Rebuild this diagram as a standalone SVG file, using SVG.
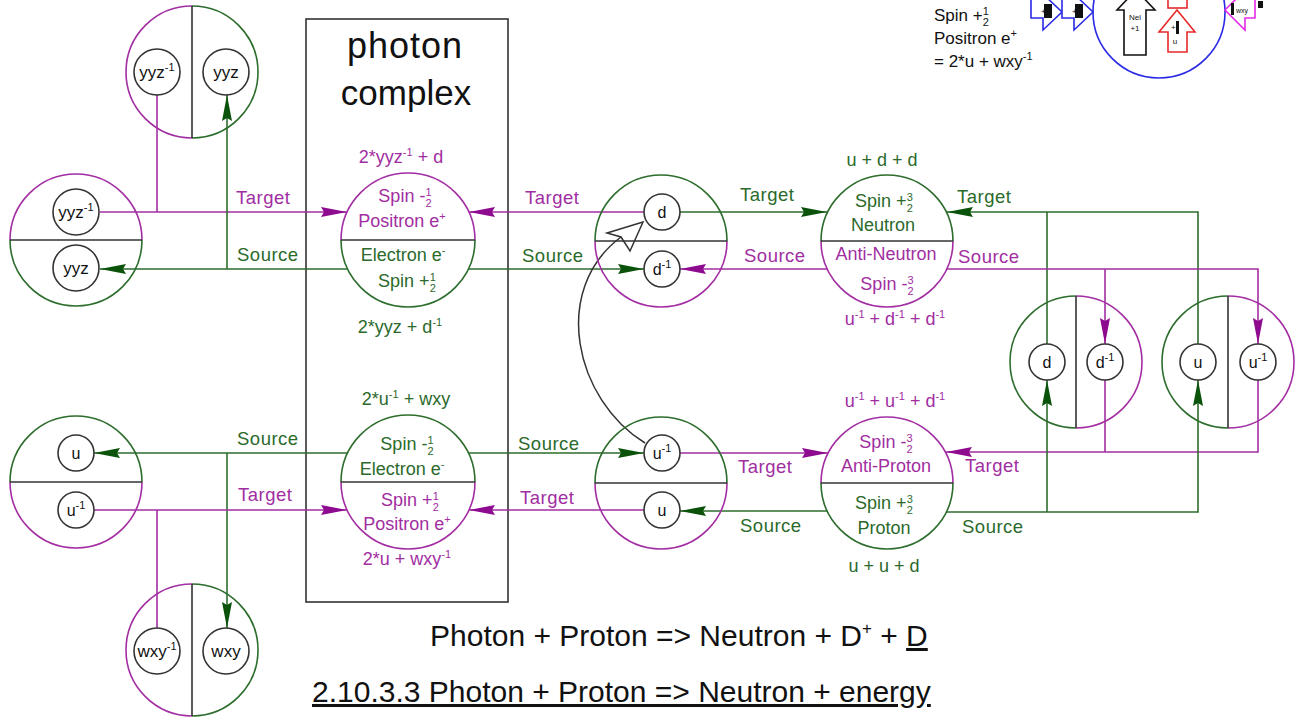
<svg xmlns="http://www.w3.org/2000/svg" width="1296" height="719" viewBox="0 0 1296 719">
<style>
text{font-family:"Liberation Sans",Arial,sans-serif}
.lbl{font-size:18.5px;letter-spacing:0.5px}
.ct{font-size:18px;text-anchor:middle}
.fr{font-size:11px}
.sup{font-size:11px}
.tg{fill:#2b6a2b}
.tp{fill:#a12ea1}
.k{fill:#111}
.lg{stroke:#2d6d2d;stroke-width:1.6;fill:none}
.lp{stroke:#a32ea3;stroke-width:1.6;fill:none}
.ck{stroke:#333;stroke-width:1.6;fill:none}
.sc{stroke:#333;stroke-width:1.6;fill:#fff}
.sn{font-size:17px;text-anchor:middle;fill:#111}
.sd{font-size:16px;text-anchor:middle;fill:#111}
</style>
<defs>
<marker id="ag" viewBox="0 0 26 10" refX="26" refY="5" markerWidth="26" markerHeight="10" markerUnits="userSpaceOnUse" orient="auto"><path d="M0,0 L26,5 L0,10 L3,5 z" fill="#0b520b"/></marker>
<marker id="ap" viewBox="0 0 26 10" refX="26" refY="5" markerWidth="26" markerHeight="10" markerUnits="userSpaceOnUse" orient="auto"><path d="M0,0 L26,5 L0,10 L3,5 z" fill="#8e0a8e"/></marker>
</defs>
<rect width="1296" height="719" fill="#fff"/>

<g id="photon-complex-box">
<rect x="306" y="19" width="202" height="583" class="ck"/>
<text x="405" y="58" font-size="36" text-anchor="middle" letter-spacing="1" class="k">photon</text>
<text x="406" y="105" font-size="35" text-anchor="middle" class="k">complex</text>
</g>

<g id="connectors">
<!-- top left -->
<line x1="100" y1="212" x2="347" y2="212" class="lp" marker-end="url(#ap)"/>
<line x1="157" y1="95" x2="157" y2="212" class="lp"/>
<line x1="347" y1="269" x2="100" y2="269" class="lg" marker-end="url(#ag)"/>
<polyline points="227,269 227,95" class="lg" marker-end="url(#ag)"/>
<!-- bottom left -->
<line x1="347" y1="453" x2="94" y2="453" class="lg" marker-end="url(#ag)"/>
<line x1="227" y1="453" x2="227" y2="628" class="lg" marker-end="url(#ag)"/>
<line x1="94" y1="510" x2="347" y2="510" class="lp" marker-end="url(#ap)"/>
<line x1="157" y1="510" x2="157" y2="628" class="lp"/>
<!-- middle -->
<line x1="644" y1="212" x2="469" y2="212" class="lp" marker-end="url(#ap)"/>
<line x1="469" y1="269" x2="644" y2="269" class="lg" marker-end="url(#ag)"/>
<line x1="469" y1="453" x2="644" y2="453" class="lg" marker-end="url(#ag)"/>
<line x1="644" y1="510" x2="469" y2="510" class="lp" marker-end="url(#ap)"/>
<!-- neutron -->
<line x1="680" y1="212" x2="827" y2="212" class="lg" marker-end="url(#ag)"/>
<line x1="827" y1="269" x2="680" y2="269" class="lp" marker-end="url(#ap)"/>
<line x1="1047" y1="344" x2="1047" y2="212" class="lg"/>
<polyline points="1198,344 1198,212 947,212" class="lg" marker-end="url(#ag)"/>
<polyline points="947,269 1258,269 1258,344" class="lp" marker-end="url(#ap)"/>
<line x1="1105" y1="269" x2="1105" y2="344" class="lp" marker-end="url(#ap)"/>
<!-- proton -->
<line x1="680" y1="453" x2="828" y2="453" class="lp" marker-end="url(#ap)"/>
<line x1="827" y1="511" x2="680" y2="511" class="lg" marker-end="url(#ag)"/>
<line x1="1105" y1="380" x2="1105" y2="452" class="lp"/>
<polyline points="1258,380 1258,452 946,452" class="lp" marker-end="url(#ap)"/>
<polyline points="946,512 1198,512 1198,380" class="lg" marker-end="url(#ag)"/>
<polyline points="1047,512 1047,380" class="lg" marker-end="url(#ag)"/>
<!-- curved transfer arrow -->
<path d="M645,443 C575,400 550,290 621,237" stroke="#333" stroke-width="1.5" fill="none"/>
<polygon points="643,222 607,233 621,237 630,251" fill="#fff" stroke="#333" stroke-width="1.5"/>
<!-- labels -->
<text x="236" y="204" class="lbl tp">Target</text>
<text x="237" y="261" class="lbl tg">Source</text>
<text x="525" y="204" class="lbl tp">Target</text>
<text x="522" y="262" class="lbl tg">Source</text>
<text x="740" y="201" class="lbl tg">Target</text>
<text x="744" y="262" class="lbl tp">Source</text>
<text x="957" y="203" class="lbl tg">Target</text>
<text x="958" y="263" class="lbl tp">Source</text>
<text x="237" y="445" class="lbl tg">Source</text>
<text x="238" y="501" class="lbl tp">Target</text>
<text x="518" y="450" class="lbl tg">Source</text>
<text x="520" y="504" class="lbl tp">Target</text>
<text x="738" y="473" class="lbl tp">Target</text>
<text x="740" y="532" class="lbl tg">Source</text>
<text x="965" y="472" class="lbl tp">Target</text>
<text x="962" y="533" class="lbl tg">Source</text>
</g>

<g id="yyz-pair-top">
<path d="M192,6 A66,66 0 0 0 192,138" class="lp"/>
<path d="M192,6 A66,66 0 0 1 192,138" class="lg"/>
<line x1="192" y1="6" x2="192" y2="138" class="ck"/>
<circle cx="157" cy="72" r="23" class="sc"/>
<text x="157" y="78" class="sn">yyz<tspan class="sup" dy="-7">-1</tspan></text>
<circle cx="226" cy="72" r="23" class="sc"/>
<text x="226" y="78" class="sn">yyz</text>
</g>

<g id="yyz-pair-left">
<path d="M10,240 A66,66 0 0 1 142,240" class="lp"/>
<path d="M10,240 A66,66 0 0 0 142,240" class="lg"/>
<line x1="10" y1="240" x2="142" y2="240" class="ck"/>
<circle cx="76" cy="212" r="23" class="sc"/>
<text x="76" y="218" class="sn">yyz<tspan class="sup" dy="-7">-1</tspan></text>
<circle cx="76" cy="268" r="23" class="sc"/>
<text x="76" y="274" class="sn">yyz</text>
</g>

<g id="photon-top">
<path d="M341,240 A67,67 0 0 1 475,240" class="lp"/>
<path d="M341,240 A67,67 0 0 0 475,240" class="lg"/>
<line x1="341" y1="240" x2="475" y2="240" class="ck"/>
<text x="401" y="163" class="ct tp">2*yyz<tspan class="sup" dy="-7">-1</tspan><tspan dy="7"> + d</tspan></text>
<text x="405" y="202" class="ct tp">Spin -<tspan class="fr" dy="-6">1</tspan><tspan class="fr" dx="-6" dy="11">2</tspan></text>
<text x="402" y="227" class="ct tp">Positron e<tspan class="sup" dy="-7">+</tspan></text>
<text x="403" y="261" class="ct tg">Electron e<tspan class="sup" dy="-7">-</tspan></text>
<text x="407" y="287" class="ct tg">Spin +<tspan class="fr" dy="-6">1</tspan><tspan class="fr" dx="-6" dy="11">2</tspan></text>
<text x="400" y="333" class="ct tg">2*yyz + d<tspan class="sup" dy="-7">-1</tspan></text>
</g>

<g id="photon-bottom">
<path d="M341,482 A67,67 0 0 1 475,482" class="lg"/>
<path d="M341,482 A67,67 0 0 0 475,482" class="lp"/>
<line x1="341" y1="482" x2="475" y2="482" class="ck"/>
<text x="406" y="405" class="ct tg">2*u<tspan class="sup" dy="-7">-1</tspan><tspan dy="7"> + wxy</tspan></text>
<text x="407" y="450" class="ct tg">Spin -<tspan class="fr" dy="-6">1</tspan><tspan class="fr" dx="-6" dy="11">2</tspan></text>
<text x="402" y="475" class="ct tg">Electron e<tspan class="sup" dy="-7">-</tspan></text>
<text x="410" y="506" class="ct tp">Spin +<tspan class="fr" dy="-6">1</tspan><tspan class="fr" dx="-6" dy="11">2</tspan></text>
<text x="407" y="530" class="ct tp">Positron e<tspan class="sup" dy="-7">+</tspan></text>
<text x="407" y="565" class="ct tp">2*u + wxy<tspan class="sup" dy="-7">-1</tspan></text>
</g>

<g id="u-pair-left">
<path d="M10,482 A66,66 0 0 1 142,482" class="lg"/>
<path d="M10,482 A66,66 0 0 0 142,482" class="lp"/>
<line x1="10" y1="482" x2="142" y2="482" class="ck"/>
<circle cx="76" cy="453" r="18" class="sc"/>
<text x="76" y="459" class="sd">u</text>
<circle cx="76" cy="510" r="18" class="sc"/>
<text x="76" y="516" class="sd">u<tspan class="sup" dy="-7">-1</tspan></text>
</g>

<g id="wxy-pair">
<path d="M192,584 A66,66 0 0 0 192,716" class="lp"/>
<path d="M192,584 A66,66 0 0 1 192,716" class="lg"/>
<line x1="192" y1="584" x2="192" y2="716" class="ck"/>
<circle cx="157" cy="651" r="23" class="sc"/>
<text x="157" y="657" class="sn">wxy<tspan class="sup" dy="-7">-1</tspan></text>
<circle cx="226" cy="651" r="23" class="sc"/>
<text x="226" y="657" class="sn">wxy</text>
</g>

<g id="d-pair-middle">
<path d="M595,241 A66,66 0 0 1 727,241" class="lg"/>
<path d="M595,241 A66,66 0 0 0 727,241" class="lp"/>
<line x1="595" y1="241" x2="727" y2="241" class="ck"/>
<circle cx="662" cy="212" r="18" class="sc"/>
<text x="662" y="218" class="sd">d</text>
<circle cx="662" cy="269" r="18" class="sc"/>
<text x="662" y="275" class="sd">d<tspan class="sup" dy="-7">-1</tspan></text>
</g>

<g id="u-pair-middle">
<path d="M595,483 A66,66 0 0 1 727,483" class="lg"/>
<path d="M595,483 A66,66 0 0 0 727,483" class="lp"/>
<line x1="595" y1="483" x2="727" y2="483" class="ck"/>
<circle cx="662" cy="453" r="18" class="sc"/>
<text x="662" y="459" class="sd">u<tspan class="sup" dy="-7">-1</tspan></text>
<circle cx="662" cy="510" r="18" class="sc"/>
<text x="662" y="516" class="sd">u</text>
</g>

<g id="neutron">
<path d="M821,241 A66,66 0 0 1 953,241" class="lg"/>
<path d="M821,241 A66,66 0 0 0 953,241" class="lp"/>
<line x1="821" y1="241" x2="953" y2="241" class="ck"/>
<text x="882" y="166" class="ct tg">u + d + d</text>
<text x="884" y="207" class="ct tg">Spin +<tspan class="fr" dy="-6">3</tspan><tspan class="fr" dx="-6" dy="11">2</tspan></text>
<text x="883" y="231" class="ct tg">Neutron</text>
<text x="886" y="260" class="ct tp">Anti-Neutron</text>
<text x="887" y="290" class="ct tp">Spin -<tspan class="fr" dy="-6">3</tspan><tspan class="fr" dx="-6" dy="11">2</tspan></text>
<text x="895" y="325" class="ct tp">u<tspan class="sup" dy="-7">-1</tspan><tspan dy="7"> + d</tspan><tspan class="sup" dy="-7">-1</tspan><tspan dy="7"> + d</tspan><tspan class="sup" dy="-7">-1</tspan></text>
</g>

<g id="proton">
<path d="M821,483 A66,66 0 0 1 953,483" class="lp"/>
<path d="M821,483 A66,66 0 0 0 953,483" class="lg"/>
<line x1="821" y1="483" x2="953" y2="483" class="ck"/>
<text x="895" y="407" class="ct tp">u<tspan class="sup" dy="-7">-1</tspan><tspan dy="7"> + u</tspan><tspan class="sup" dy="-7">-1</tspan><tspan dy="7"> + d</tspan><tspan class="sup" dy="-7">-1</tspan></text>
<text x="886" y="448" class="ct tp">Spin -<tspan class="fr" dy="-6">3</tspan><tspan class="fr" dx="-6" dy="11">2</tspan></text>
<text x="886" y="472" class="ct tp">Anti-Proton</text>
<text x="884" y="509" class="ct tg">Spin +<tspan class="fr" dy="-6">3</tspan><tspan class="fr" dx="-6" dy="11">2</tspan></text>
<text x="884" y="534" class="ct tg">Proton</text>
<text x="884" y="572" class="ct tg">u + u + d</text>
</g>

<g id="d-pair-right">
<path d="M1076,296 A66,66 0 0 0 1076,428" class="lg"/>
<path d="M1076,296 A66,66 0 0 1 1076,428" class="lp"/>
<line x1="1076" y1="296" x2="1076" y2="428" class="ck"/>
<circle cx="1047" cy="362" r="18" class="sc"/>
<text x="1047" y="368" class="sd">d</text>
<circle cx="1105" cy="362" r="18" class="sc"/>
<text x="1105" y="368" class="sd">d<tspan class="sup" dy="-7">-1</tspan></text>
</g>

<g id="u-pair-right">
<path d="M1228,296 A66,66 0 0 0 1228,428" class="lg"/>
<path d="M1228,296 A66,66 0 0 1 1228,428" class="lp"/>
<line x1="1228" y1="296" x2="1228" y2="428" class="ck"/>
<circle cx="1198" cy="362" r="18" class="sc"/>
<text x="1198" y="368" class="sd">u</text>
<circle cx="1258" cy="362" r="18" class="sc"/>
<text x="1258" y="368" class="sd">u<tspan class="sup" dy="-7">-1</tspan></text>
</g>

<g id="legend-fragment">
<text x="934" y="21" font-size="17" class="k">Spin +<tspan class="fr" dy="-6">1</tspan><tspan class="fr" dx="-6" dy="11">2</tspan></text>
<text x="934" y="44" font-size="17" class="k">Positron e<tspan class="sup" dy="-7">+</tspan></text>
<text x="934" y="67" font-size="17" class="k">= 2*u + wxy<tspan class="sup" dy="-7">-1</tspan></text>
<circle cx="1159" cy="12" r="66" fill="none" stroke="#2a2ae6" stroke-width="1.6"/>
<polygon points="1031,-5 1031,18 1043,18 1043,30 1062,12 1043,-6" fill="#fff" stroke="#2a2ae6" stroke-width="1.6"/>
<rect x="1044" y="4" width="8" height="14" fill="#111"/>
<text x="1041" y="14" font-size="8" class="k">+</text>
<polygon points="1062,-5 1062,18 1074,18 1074,30 1093,12 1074,-6" fill="#fff" stroke="#2a2ae6" stroke-width="1.6"/>
<rect x="1075" y="4" width="8" height="14" fill="#111"/>
<text x="1072" y="14" font-size="8" class="k">+</text>
<polygon points="1136,-10 1155,10 1146,10 1146,55 1124,55 1124,10 1117,10" fill="#fff" stroke="#111" stroke-width="1.6"/>
<text x="1135" y="20" font-size="8" text-anchor="middle" class="k">Nel</text>
<text x="1135" y="31" font-size="8" text-anchor="middle" class="k">+1</text>
<rect x="1168" y="-4" width="19" height="12" fill="#fff" stroke="#e62a2a" stroke-width="1.6"/>
<polygon points="1177,10 1195,32 1187,32 1187,52 1168,52 1168,32 1159,32" fill="#fff" stroke="#e62a2a" stroke-width="1.6"/>
<rect x="1176" y="21" width="3" height="13" fill="#111"/>
<text x="1171" y="30" font-size="8" class="k">+</text>
<text x="1175" y="44" font-size="8" text-anchor="middle" class="k">u</text>
<polygon points="1225,10 1245,-10 1255,-10 1255,18 1245,18 1245,30" fill="#fff" stroke="#e62ae6" stroke-width="1.6"/>
<rect x="1231" y="3" width="3" height="12" fill="#111"/>
<text x="1236" y="13" font-size="7" class="k">wxy</text>
<rect x="1258" y="1" width="5" height="7" fill="#111"/>
</g>

<g id="captions">
<text x="430" y="646" font-size="30" class="k">Photon + Proton =&gt; Neutron + D<tspan font-size="17" dy="-12">+</tspan><tspan dy="12"> + </tspan><tspan text-decoration="underline">D</tspan></text>
<text x="312" y="702" font-size="30" class="k" text-decoration="underline">2.10.3.3 Photon + Proton =&gt; Neutron + energy</text>
</g>
</svg>
